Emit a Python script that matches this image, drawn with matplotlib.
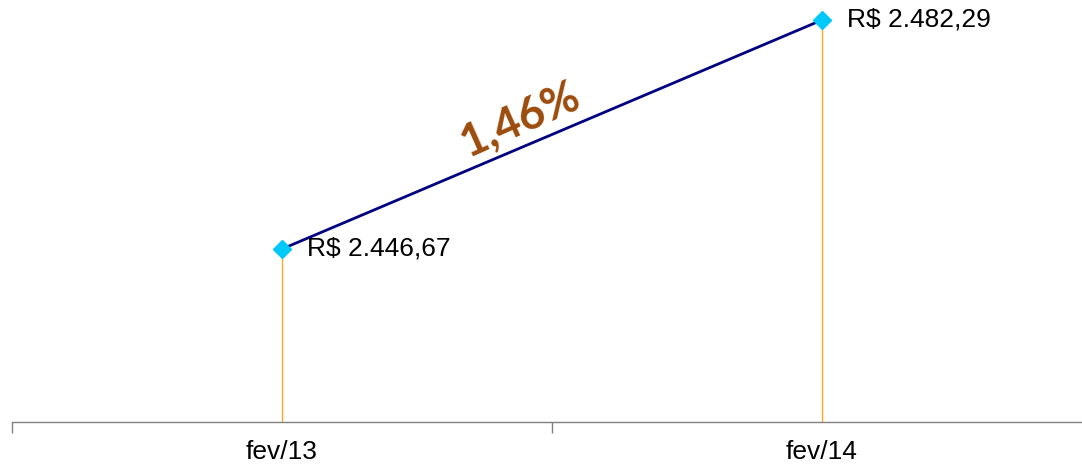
import numpy as np
import matplotlib.pyplot as plt

# dados
meses = ['fev/13', 'fev/14']
valores = [2446.67, 2482.29]
rotulos = ['R$ 2.446,67', 'R$ 2.482,29']

variacao = (valores[1] / valores[0] - 1) * 100
txt_var = ('%.2f%%' % variacao).replace('.', ',')

fig = plt.figure(figsize=(10.82, 4.65), dpi=100)
ax = fig.add_axes([12 / 1082, 43 / 465, 1080 / 1082, 422 / 465])

x = np.arange(len(meses))

# linhas verticais ate o eixo
ax.vlines(x, 0, valores, colors='#FFAA22', linewidth=1, zorder=1)
ax.plot(x, valores, color='#000080', linewidth=2, zorder=2)
ax.plot(x, valores, linestyle='none', marker='D', markersize=9.5,
        color='#00C8F8', zorder=3)

for xi, v, r in zip(x, valores, rotulos):
    ax.annotate(r, (xi, v), xytext=(25, 0), textcoords='offset pixels',
                ha='left', va='center', fontsize=19,
                family='Liberation Sans', color='black')

# percentual sobre a linha
xm = x.mean()
ym = np.mean(valores)
ax.annotate(txt_var, (xm, ym), xytext=(-24, -4), textcoords='offset pixels',
            ha='center', va='bottom', rotation=24, rotation_mode='anchor',
            fontsize=32.5, fontweight='bold', family='Lato', color='#9C4B0C')

ax.set_xlim(-0.5, 1.5 - 10 / 540)
ax.set_ylim(2419.76, 2485.4)

ax.set_xticks(x)
ax.set_xticklabels(meses, fontsize=19, family='Liberation Sans')
ax.set_xticks([-0.5, 0.5, 1.5], minor=True)
ax.tick_params(axis='x', which='major', length=0, pad=13)
ax.tick_params(axis='x', which='minor', length=8, color='#808080', width=1)
ax.set_yticks([])

for s in ['top', 'right', 'left']:
    ax.spines[s].set_visible(False)
ax.spines['bottom'].set_color('#808080')
ax.spines['bottom'].set_linewidth(1)

fig.savefig('out.png', dpi=100)
